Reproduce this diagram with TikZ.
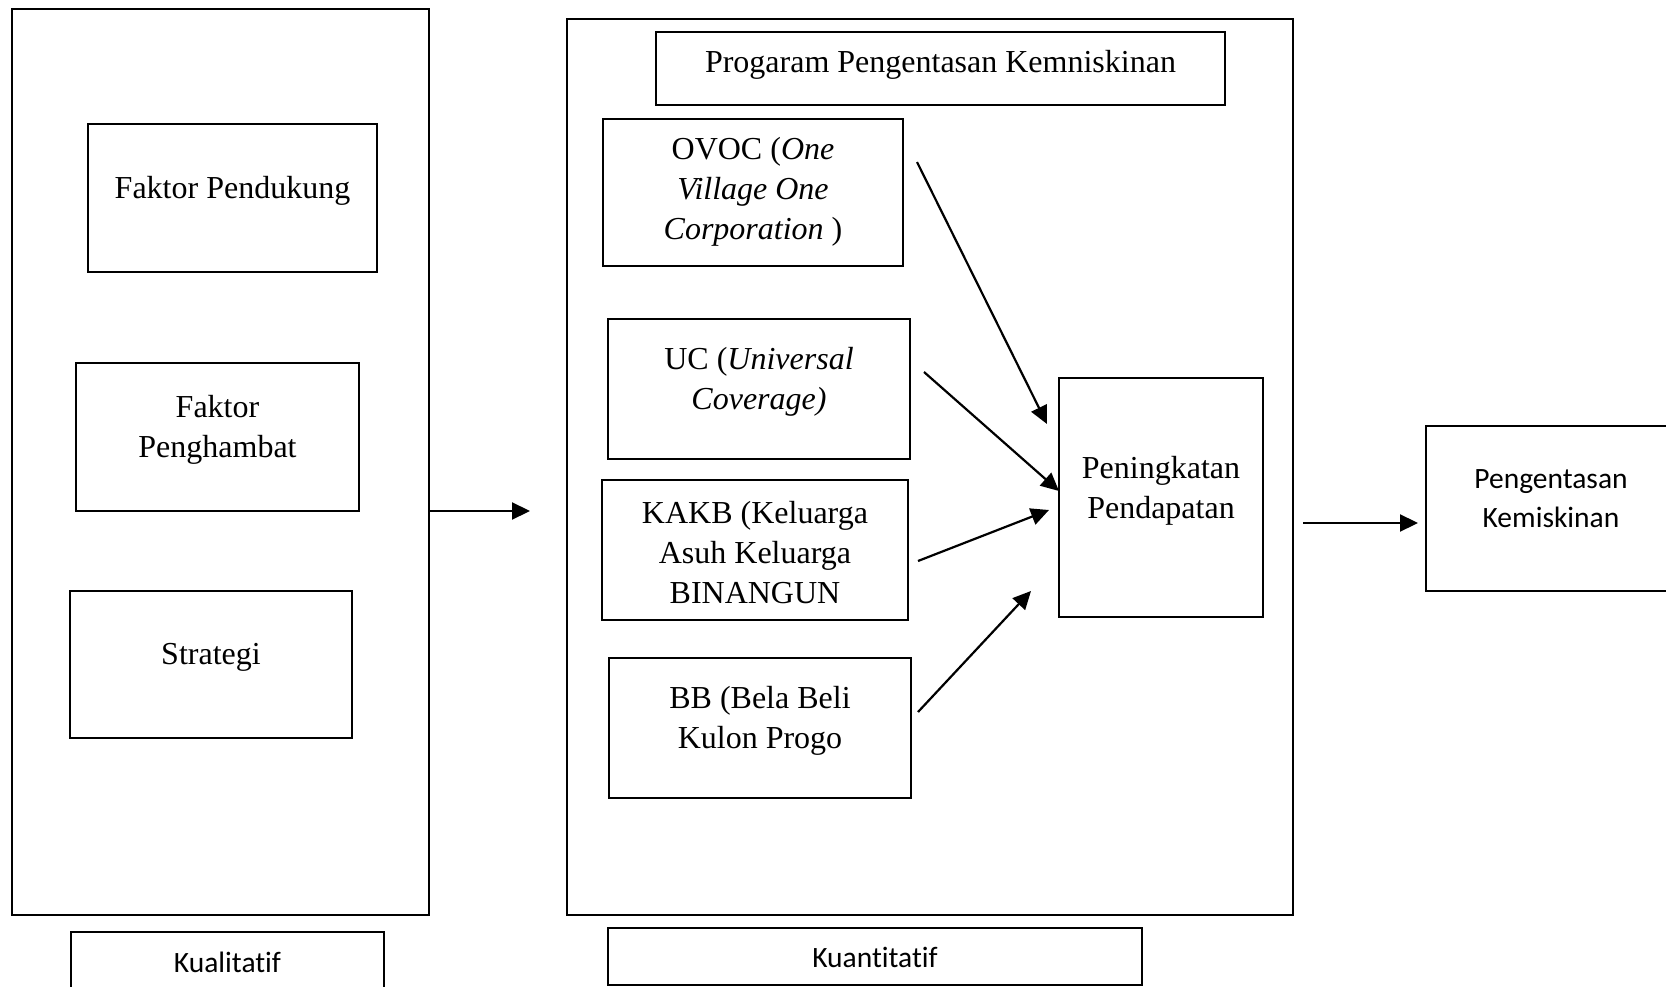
\documentclass[tikz,border=0pt]{standalone}
\usepackage{fontspec}
\setmainfont{Liberation Serif}
\newfontfamily\calib[Ligatures=NoCommon]{Carlito}
\usetikzlibrary{arrows.meta}
\tikzset{
  box/.style={draw=black, line width=2.2pt, inner sep=0pt, fill=none},
  txt/.style={align=center, inner sep=0pt, font=\fontsize{32}{40}\selectfont},
  stxt/.style={align=center, inner sep=0pt, font=\calib\fontsize{29.5}{39}\selectfont},
  arr/.style={line width=2.2pt, -{Triangle[length=18pt,width=17pt]}}
}
\begin{document}
\begin{tikzpicture}[x=1pt,y=-1pt]
\useasboundingbox (0,0) rectangle (1666,987);
% left panel
\node[box, minimum width=417pt, minimum height=906pt] (leftbig) at (220.5,462) {};
\node[box, minimum width=289pt, minimum height=148pt] (pend) at (232.5,198) {};
\node[txt] (pendt) at (232.5,191) {Faktor Pendukung};
\node[box, minimum width=283pt, minimum height=148pt] (hamb) at (217.5,437) {};
\node[txt] (hambt) at (217.5,430) {Faktor\\Penghambat};
\node[box, minimum width=282pt, minimum height=147pt] (strat) at (211,664.5) {};
\node[txt] (stratt) at (211,657) {Strategi};
\node[box, minimum width=313pt, minimum height=70pt] (kual) at (227.5,967) {};
\node[stxt] (kualt) at (227.5,962) {Kualitatif};
% middle panel
\node[box, minimum width=726pt, minimum height=896pt] (midbig) at (930,467) {};
\node[box, minimum width=569pt, minimum height=73pt] (prog) at (940.5,68.5) {};
\node[txt] (progt) at (940.5,65) {Progaram Pengentasan Kemniskinan};
\node[box, minimum width=300pt, minimum height=147pt] (ovoc) at (753,192.5) {};
\node[txt] (ovoct) at (753,192) {OVOC (\textit{One}\\\textit{Village One}\\\textit{Corporation} )};
\node[box, minimum width=302pt, minimum height=140pt] (uc) at (759,389) {};
\node[txt] (uct) at (759,382) {UC (\textit{Universal}\\\textit{Coverage)}};
\node[box, minimum width=306pt, minimum height=140pt] (kakb) at (755,550) {};
\node[txt] (kakbt) at (755,553) {KAKB (Keluarga\\Asuh Keluarga\\BINANGUN};
\node[box, minimum width=302pt, minimum height=140pt] (bb) at (760,728) {};
\node[txt] (bbt) at (760,721) {BB (Bela Beli\\Kulon Progo};
\node[box, minimum width=204pt, minimum height=239pt] (pen) at (1161,497.5) {};
\node[txt] (pent) at (1161,491) {Peningkatan\\Pendapatan};
\node[box, minimum width=534pt, minimum height=57pt] (kuan) at (875,956.5) {};
\node[stxt] (kuant) at (875,957) {Kuantitatif};
% right
\node[box, minimum width=254pt, minimum height=165pt] (peng) at (1553,508.5) {};
\node[stxt] (pengt) at (1551,499) {Pengentasan\\Kemiskinan};
% arrows
\coordinate (a0s) at (429,511);
\coordinate (a0e) at (530,511);
\draw[arr] (leftbig.east |- a0s) -- (a0e);
\coordinate (a5s) at (1303,523);
\coordinate (a5e) at (1418,523);
\draw[arr] (a5s) -- (a5e);
\coordinate (a1s) at (917,162);
\coordinate (a1e) at (1047,424);
\draw[arr] (a1s) -- (a1e);
\coordinate (a2s) at (924,372);
\coordinate (a2e) at (1059,491);
\draw[arr] (a2s) -- (a2e);
\coordinate (a3s) at (918,561);
\coordinate (a3e) at (1049,510);
\draw[arr] (a3s) -- (a3e);
\coordinate (a4s) at (918,712);
\coordinate (a4e) at (1031,591);
\draw[arr] (a4s) -- (a4e);
\end{tikzpicture}
\end{document}
